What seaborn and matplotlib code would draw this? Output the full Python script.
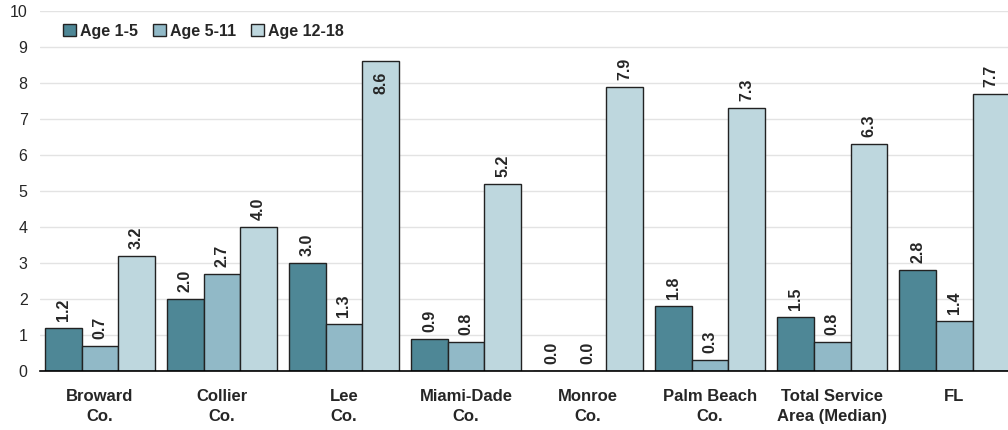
import pandas as pd
import numpy as np
import matplotlib.pyplot as plt
import seaborn as sns

# Data
areas = ['Broward\nCo.', 'Collier\nCo.', 'Lee\nCo.', 'Miami-Dade\nCo.', 'Monroe\nCo.',
         'Palm Beach\nCo.', 'Total Service\nArea (Median)', 'FL']
age_groups = ['Age 1-5', 'Age 5-11', 'Age 12-18']
age_1_5 = [1.2, 2.0, 3.0, 0.9, 0.0, 1.8, 1.5, 2.8]
age_5_11 = [0.7, 2.7, 1.3, 0.8, 0.0, 0.3, 0.8, 1.4]
age_12_18 = [3.2, 4.0, 8.6, 5.2, 7.9, 7.3, 6.3, 7.7]
colors = ['#4E8796', '#91B9C7', '#BED7DE']

df = pd.DataFrame({'Area': areas * 3,
                   'Group': np.repeat(age_groups, len(areas)),
                   'Value': age_1_5 + age_5_11 + age_12_18})

sns.set_theme(style='white')
plt.rcParams['font.family'] = ['Liberation Sans', 'DejaVu Sans']

fig = plt.figure(figsize=(10.08, 4.30), dpi=100)
ax = fig.add_axes([0.0397, 0.1372, 0.9603, 0.8372])

sns.barplot(ax=ax, data=df, x='Area', y='Value', hue='Group', palette=colors,
            width=0.9, edgecolor='#222222', linewidth=1.0, saturation=1, errorbar=None)

# value labels above bars; the tallest one sits just inside the top of its bar
for cont in ax.containers:
    vals = cont.datavalues
    outside = ['%.1f' % v if v < 8.5 else '' for v in vals]
    ax.bar_label(cont, labels=outside, rotation=90, padding=5, fontsize=11.5, fontweight='bold')
    for bar, v in zip(cont.patches, vals):
        if v >= 8.5:
            ax.annotate('%.1f' % v, (bar.get_x() + bar.get_width() / 2, v),
                        xytext=(0, -7), textcoords='offset points', rotation=90,
                        ha='center', va='top', fontsize=11.5, fontweight='bold')

ax.set_ylim(0, 10)
ax.set_yticks(range(0, 11))
ax.set_xlim(-0.49, 7.44)
ax.yaxis.grid(True, color='#e3e3e3', linewidth=1)
ax.set_axisbelow(True)
for s in ['left', 'right', 'top']:
    ax.spines[s].set_visible(False)
ax.spines['bottom'].set_color('black')
ax.spines['bottom'].set_linewidth(1.2)
ax.set_xlabel('')
ax.set_ylabel('')
ax.tick_params(axis='y', labelsize=11.5, length=0, pad=9)
ax.tick_params(axis='x', length=0, pad=13)
for lbl in ax.get_xticklabels():
    lbl.set_fontsize(12)
    lbl.set_fontweight('bold')
    lbl.set_linespacing(1.45)

ax.legend(loc='upper left', bbox_to_anchor=(0.009, 1.005), ncol=3, frameon=False,
          handlelength=0.8, handleheight=0.8, handletextpad=0.25, columnspacing=0.95,
          prop={'weight': 'bold', 'size': 11.5})

plt.savefig('out.png', dpi=100)
